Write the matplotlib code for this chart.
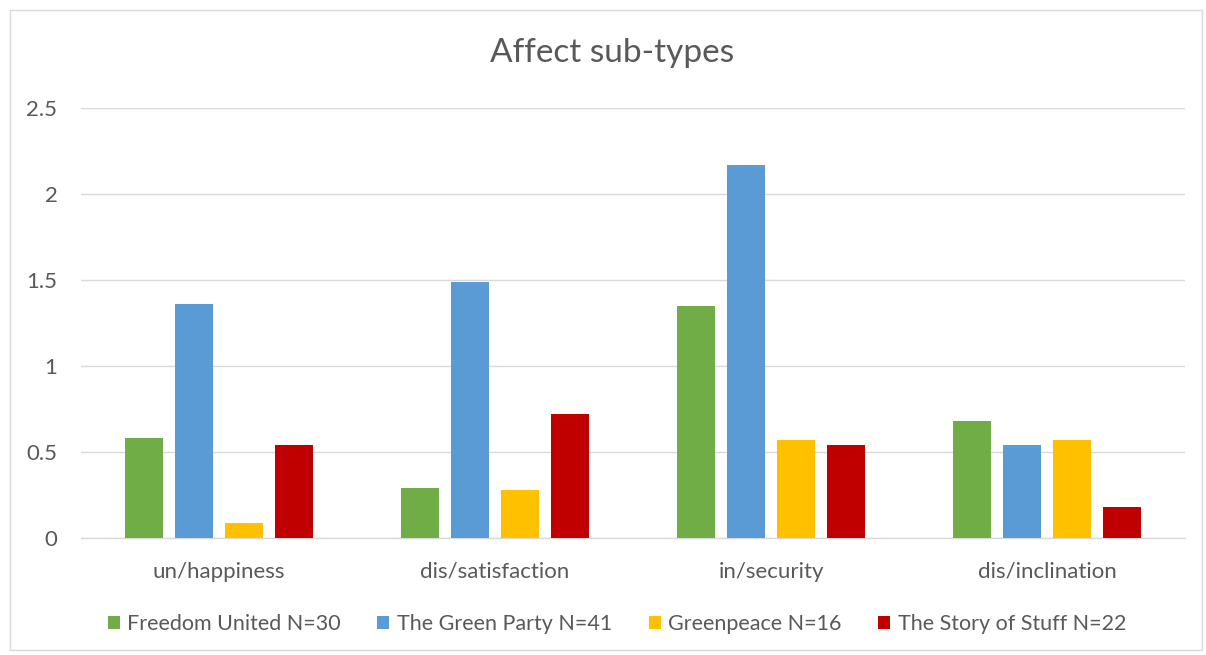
import matplotlib
matplotlib.use("Agg")
import matplotlib.pyplot as plt
import numpy as np
from matplotlib.patches import Rectangle

categories = ["un/happiness", "dis/satisfaction", "in/security", "dis/inclination"]
series_names = ["Freedom United N=30", "The Green Party N=41", "Greenpeace N=16", "The Story of Stuff N=22"]
freedom_united = [0.58, 0.29, 1.35, 0.68]
green_party = [1.36, 1.49, 2.17, 0.54]
greenpeace = [0.09, 0.28, 0.57, 0.57]
story_of_stuff = [0.54, 0.72, 0.54, 0.18]
colors = ["#70AD47", "#5B9BD5", "#FFC000", "#C00000"]
yticks = [0, 0.5, 1, 1.5, 2, 2.5]
ytick_labels = ["0", "0.5", "1", "1.5", "2", "2.5"]

plt.rcParams['font.family'] = ['Lato', 'DejaVu Sans']
txt = "#595959"

fig = plt.figure(figsize=(12.06, 6.55), dpi=100)
fig.patches.append(Rectangle((10/1206, 1-650/655), 1192/1206, 640/655, transform=fig.transFigure,
                             fill=False, edgecolor="#D9D9D9", linewidth=1))
ax = fig.add_axes([81/1206, 1-538/655, (1185-81)/1206, (538-108)/655])

x = np.arange(len(categories))
width = 0.14
step = 0.181
data = [freedom_united, green_party, greenpeace, story_of_stuff]
for i, (vals, name, c) in enumerate(zip(data, series_names, colors)):
    ax.bar(x + (i - 1.5) * step, vals, width, color=c, label=name, zorder=3)

ax.set_xlim(-0.5, len(categories) - 0.5)
ax.set_ylim(0, 2.5)
ax.set_yticks(yticks)
ax.set_yticklabels(ytick_labels)
ax.set_xticks(x)
ax.set_xticklabels(categories)
ax.grid(axis='y', color="#D9D9D9", linewidth=1, zorder=0)
for s in ["top", "right", "left"]:
    ax.spines[s].set_visible(False)
ax.spines["bottom"].set_color("#D9D9D9")
ax.spines["bottom"].set_linewidth(1)
ax.tick_params(axis='both', length=0, colors=txt, labelsize=16)
ax.tick_params(axis='x', pad=17)
ax.tick_params(axis='y', pad=17)
for lbl in ax.get_yticklabels():
    lbl.set_horizontalalignment('right')

fig.text(612/1206, 1-53/655, "Affect sub-types", ha='center', va='center', fontsize=24, color=txt)

leg = fig.legend(loc='center', bbox_to_anchor=(617/1206, 1-624/655), ncol=4, frameon=False,
                 fontsize=15.5, handlelength=0.56, handleheight=0.56, handletextpad=0.35, columnspacing=1.7)
for t in leg.get_texts():
    t.set_color(txt)

fig.savefig("out.png", dpi=100)
